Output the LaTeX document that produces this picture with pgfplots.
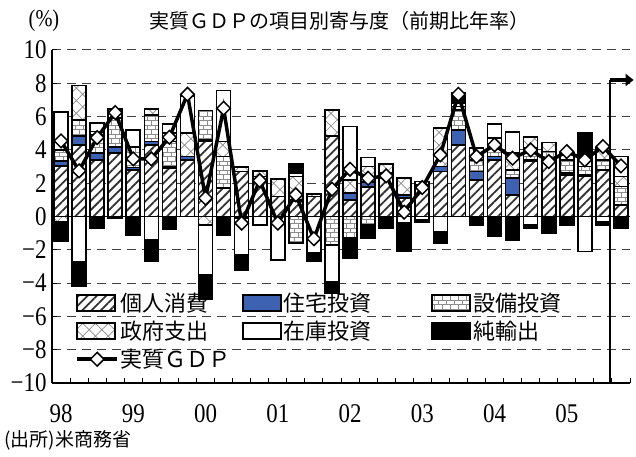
\documentclass[border=0pt]{standalone}
\usepackage{fontspec}
\usepackage{pgfplots}
\pgfplotsset{compat=1.18}
\usepackage{pgfplotstable}
\usetikzlibrary{patterns,patterns.meta,arrows.meta}
\setmainfont{Liberation Serif}
\newfontfamily\numfont{Liberation Serif}[FakeStretch=0.85]
\newfontfamily\jp{Noto Sans CJK JP}
\definecolor{resblue}{RGB}{62,98,178}

\pgfdeclarepatternformonly{mybricks}{\pgfqpoint{-1pt}{-1pt}}{\pgfqpoint{9pt}{10pt}}{\pgfqpoint{8pt}{9pt}}{%
 \pgfsetlinewidth{0.9pt}%
 \pgfpathmoveto{\pgfqpoint{0pt}{0pt}}\pgfpathlineto{\pgfqpoint{8pt}{0pt}}%
 \pgfpathmoveto{\pgfqpoint{0pt}{4.5pt}}\pgfpathlineto{\pgfqpoint{8pt}{4.5pt}}%
 \pgfpathmoveto{\pgfqpoint{0pt}{0pt}}\pgfpathlineto{\pgfqpoint{0pt}{4.5pt}}%
 \pgfpathmoveto{\pgfqpoint{4pt}{4.5pt}}\pgfpathlineto{\pgfqpoint{4pt}{9pt}}%
 \pgfusepath{stroke}}

\pgfplotstableread{
q C R E G I N GDP
0 3.04 0.30 0.64 -0.30 2.30 -1.20 4.54
1 4.30 0.54 0.96 2.06 -2.70 -1.46 2.74
2 3.40 0.40 1.10 0.20 0.50 -0.70 4.74
3 3.80 0.36 1.74 0.54 0.00 -0.10 6.24
4 2.80 0.15 1.24 0.00 1.00 -1.10 3.46
5 4.30 0.20 1.60 0.34 -1.40 -1.30 3.46
6 2.90 0.10 1.50 0.50 0.54 -0.76 4.76
7 3.40 0.20 0.00 1.40 2.24 0.00 7.34
8 4.50 0.10 1.76 -0.50 -3.00 -1.45 1.10
9 1.70 0.00 1.90 0.90 3.06 -1.10 6.50
10 2.70 -0.10 0.00 0.26 -2.20 -0.90 -0.40
11 2.40 0.00 0.00 0.34 -0.50 0.00 2.16
12 1.20 0.00 0.00 1.04 -2.60 0.00 -0.40
13 0.90 0.10 -1.60 1.40 0.20 0.54 1.30
14 1.20 0.00 0.00 0.14 -2.20 -0.50 -1.34
15 4.84 0.00 -1.70 1.56 -2.20 -0.70 1.64
16 1.00 0.40 -1.30 0.80 3.20 -1.20 2.84
17 1.76 0.30 -0.50 0.94 0.54 -0.80 2.30
18 2.60 0.00 0.00 0.56 0.00 -0.70 2.44
19 1.10 0.20 0.00 1.00 -0.40 -1.70 0.26
20 1.90 0.00 0.00 0.20 -0.20 -0.14 1.74
21 2.70 0.30 0.00 2.30 -0.90 -0.70 3.70
22 4.30 0.90 1.20 0.20 0.20 0.60 7.34
23 2.20 0.50 0.70 0.00 0.70 -0.50 3.60
24 3.40 0.20 0.50 0.60 0.84 -1.20 4.30
25 1.30 1.00 0.50 1.00 1.26 -1.40 3.50
26 3.30 0.10 0.70 0.66 -0.50 -0.20 4.00
27 3.30 0.10 0.50 0.54 0.00 -1.00 3.30
28 2.50 0.10 0.80 0.40 0.00 -0.50 3.90
29 2.40 0.10 0.50 0.60 -2.10 1.44 3.40
30 2.80 0.00 0.60 0.70 -0.30 -0.20 4.20
31 0.70 0.00 1.10 0.60 1.20 -0.70 3.04
}\data

\pgfplotsset{
 segC/.style={draw=black, line width=1.6bp, preaction={fill=white}, pattern={Lines[angle=45,distance=6.5bp,line width=1.8bp]}, pattern color=black!80},
 segR/.style={draw=black, line width=1.6bp, fill=resblue},
 segE/.style={draw=black, line width=1.6bp, preaction={fill=white}, pattern=mybricks, pattern color=black!45},
 segG/.style={draw=black, line width=1.6bp, preaction={fill=white}, pattern={Hatch[angle=45,distance=9bp,line width=0.7bp]}, pattern color=black!45},
 segI/.style={draw=black, line width=1.6bp, fill=white},
 segN/.style={draw=black, line width=1.6bp, fill=black},
 boxlegend/.style={legend image code/.code={\draw[##1] (0bp,-8bp) rectangle (38bp,8bp);}},
 gdplegend/.style={legend image code/.code={\draw[mark repeat=2,mark phase=2,##1] plot coordinates {(0bp,0bp) (20bp,0bp) (40bp,0bp)};}},
 gdpstyle/.style={draw=black, line width=3.5bp, mark=square*, mark size=4.8bp, mark options={rotate=45, fill=white, draw=black, line width=1.5bp, solid}},
 common/.style={scale only axis, width=578bp, height=333bp, xmin=-0.5, xmax=31.5, ymin=-10, ymax=10, at={(52bp,74bp)}, anchor=south west},
}

\begin{document}
\begin{tikzpicture}
\useasboundingbox (0,0) rectangle (636bp,457bp);
% positive parts
\begin{axis}[common,
  ybar stacked, bar width=14bp,
  axis x line*=bottom, axis y line*=left,
  axis line style={line width=1.3bp, black},
  tick align=inside, major tick length=5bp, minor tick length=5bp,
  tick style={black, line width=1bp},
  ytick={-10,-8,...,10},
  yticklabels={−10,−8,−6,−4,−2,0,2,4,6,8,10},
  xtick={0,4,...,28}, xticklabels={98,99,00,01,02,03,04,05},
  major x tick style={draw=none},
  minor xtick={-0.5,0.5,...,31.5},
  ymajorgrids, grid style={dash pattern=on 9bp off 6bp, black!75, line width=1bp},
  tick label style={font=\numfont\fontsize{27bp}{30bp}\selectfont},
  xticklabel style={yshift=-18bp},
  yticklabel style={xshift=-2bp},
]
\addplot[segC] table[x=q, y expr={max(\thisrow{C},0)}] {\data};
\addplot[segR] table[x=q, y expr={max(\thisrow{R},0)}] {\data};
\addplot[segE] table[x=q, y expr={max(\thisrow{E},0)}] {\data};
\addplot[segG] table[x=q, y expr={max(\thisrow{G},0)}] {\data};
\addplot[segI] table[x=q, y expr={max(\thisrow{I},0)}] {\data};
\addplot[segN] table[x=q, y expr={max(\thisrow{N},0)}] {\data};
\draw[black, line width=0.8bp] (axis cs:-0.5,0) -- (axis cs:31.5,0);
\end{axis}
% negative parts
\begin{axis}[common, hide axis, ybar stacked, bar width=14bp]
\addplot[segC] table[x=q, y expr={min(\thisrow{C},0)}] {\data};
\addplot[segR] table[x=q, y expr={min(\thisrow{R},0)}] {\data};
\addplot[segE] table[x=q, y expr={min(\thisrow{E},0)}] {\data};
\addplot[segG] table[x=q, y expr={min(\thisrow{G},0)}] {\data};
\addplot[segI] table[x=q, y expr={min(\thisrow{I},0)}] {\data};
\addplot[segN] table[x=q, y expr={min(\thisrow{N},0)}] {\data};
\end{axis}
% GDP line, legend, annotations
\begin{axis}[common, hide axis, clip=false,
  legend columns=3,
  legend cell align=left,
  legend style={at={(rel axis cs:0.035,0.282)}, anchor=north west, draw=none, fill=none,
    font=\jp\fontsize{22bp}{26bp}\selectfont, row sep=4bp,
    /tikz/column 2/.style={column sep=9bp},
    /tikz/column 4/.style={column sep=58bp}},
]
\addlegendimage{segC, boxlegend}\addlegendentry{個人消費}
\addlegendimage{segR, boxlegend}\addlegendentry{住宅投資}
\addlegendimage{segE, boxlegend}\addlegendentry{設備投資}
\addlegendimage{segG, boxlegend}\addlegendentry{政府支出}
\addlegendimage{segI, boxlegend}\addlegendentry{在庫投資}
\addlegendimage{segN, boxlegend}\addlegendentry{純輸出}
\addplot[gdpstyle, gdplegend] table[x=q, y=GDP] {\data};
\addlegendentry{実質ＧＤＰ}
\draw[black, line width=1.4bp] (axis cs:30.4,-10) -- (axis cs:30.4,8.2);
\draw[black, line width=3.5bp, -{Triangle[length=8bp,width=12bp]}] (axis cs:30.4,8.2) -- (axis cs:31.7,8.2);
\end{axis}
\node[font=\jp\fontsize{20bp}{24bp}\selectfont] at (339bp,436bp) {実質ＧＤＰの項目別寄与度（前期比年率）};
\node[font=\numfont\fontsize{24bp}{28bp}\selectfont] at (44bp,436bp) {(\%)};
\node[anchor=west, font=\jp\fontsize{19bp}{22bp}\selectfont] at (1bp,17bp) {(出所)米商務省};
\end{tikzpicture}
\end{document}
